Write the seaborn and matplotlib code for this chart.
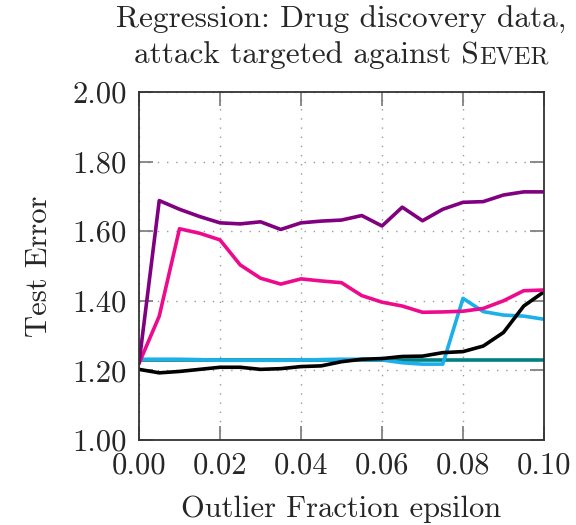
import numpy as np
import pandas as pd
import seaborn as sns
import matplotlib
matplotlib.use("Agg")
import matplotlib.pyplot as plt
from matplotlib.offsetbox import TextArea, HPacker, VPacker, AnchoredOffsetbox

eps = [0.000, 0.005, 0.010, 0.015, 0.020, 0.025, 0.030, 0.035, 0.040, 0.045, 0.050,
       0.055, 0.060, 0.065, 0.070, 0.075, 0.080, 0.085, 0.090, 0.095, 0.100]

teal_vals = [1.229] * 21
cyan_vals = [1.232, 1.232, 1.232, 1.231, 1.229, 1.229, 1.229, 1.229, 1.230, 1.231, 1.232,
             1.232, 1.230, 1.222, 1.218, 1.218, 1.407, 1.369, 1.359, 1.356, 1.347]
black_vals = [1.203, 1.193, 1.197, 1.203, 1.209, 1.209, 1.203, 1.205, 1.211, 1.213, 1.225,
              1.232, 1.234, 1.240, 1.241, 1.251, 1.254, 1.270, 1.309, 1.385, 1.426]
magenta_vals = [1.220, 1.356, 1.607, 1.594, 1.575, 1.503, 1.465, 1.448, 1.463, 1.457, 1.452,
                1.415, 1.396, 1.385, 1.367, 1.368, 1.370, 1.378, 1.400, 1.429, 1.431]
purple_vals = [1.220, 1.688, 1.663, 1.642, 1.624, 1.621, 1.627, 1.605, 1.624, 1.629, 1.632,
               1.645, 1.615, 1.669, 1.630, 1.663, 1.683, 1.685, 1.704, 1.713, 1.713]

series_names = ["teal", "cyan", "black", "magenta", "purple"]
series_vals = [teal_vals, cyan_vals, black_vals, magenta_vals, purple_vals]
colors = {"teal": "#008080", "cyan": "#1cb0ea", "black": "#000000",
          "magenta": "#ee0a8c", "purple": "#800080"}

xticks = [0.00, 0.02, 0.04, 0.06, 0.08, 0.10]
yticks = [1.00, 1.20, 1.40, 1.60, 1.80, 2.00]

df = pd.DataFrame({
    "eps": eps * len(series_names),
    "err": sum(series_vals, []),
    "series": sum([[n] * len(eps) for n in series_names], []),
})

sns.set_theme(style="white")
plt.rcParams["font.family"] = ["cmr10", "DejaVu Serif"]
plt.rcParams["axes.formatter.use_mathtext"] = True
plt.rcParams["mathtext.fontset"] = "cm"

FS = 22
FS_T = 22.5

fig = plt.figure(figsize=(5.76, 5.25), dpi=100)
ax = fig.add_axes([139/576, 1 - 440/525, (544-139)/576, (440-92)/525])

sns.lineplot(data=df, x="eps", y="err", hue="series", palette=colors,
             hue_order=series_names, linewidth=2.6, ax=ax, legend=False,
             estimator=None, sort=False)

ax.set_xlim(0, 0.1)
ax.set_ylim(1.0, 2.0)
ax.set_xticks(xticks)
ax.set_yticks(yticks)
ax.set_xticklabels([f"{v:.2f}" for v in xticks], fontsize=FS)
ax.set_yticklabels([f"{v:.2f}" for v in yticks], fontsize=FS)
ax.tick_params(direction="in", length=10, width=1.2, color="#777777",
               top=True, right=True, bottom=True, left=True, pad=9)
ax.grid(True, linestyle=(0, (1, 5.6)), color="#999999", linewidth=1.0)
for s in ax.spines.values():
    s.set_color("#333333")
    s.set_linewidth(1.3)

ax.set_xlabel("Outlier Fraction epsilon", fontsize=FS, labelpad=11)
ax.set_ylabel("Test Error", fontsize=FS, labelpad=14)

# title with small caps "Sever"
line1 = TextArea("Regression: Drug discovery data,", textprops=dict(fontsize=FS_T, family=["cmr10"]))
p1 = TextArea("attack targeted against S", textprops=dict(fontsize=FS_T, family=["cmr10"]))
p2 = TextArea("EVER", textprops=dict(fontsize=FS_T * 0.78, family=["cmr10"]))
line2 = HPacker(children=[p1, p2], align="baseline", pad=0, sep=0)
box = VPacker(children=[line1, line2], align="center", pad=0, sep=5)
anch = AnchoredOffsetbox(loc="lower center", child=box, frameon=False,
                         bbox_to_anchor=(0.5, 1.065), bbox_transform=ax.transAxes,
                         borderpad=0, pad=0)
ax.add_artist(anch)

fig.savefig("out.png", dpi=100)
